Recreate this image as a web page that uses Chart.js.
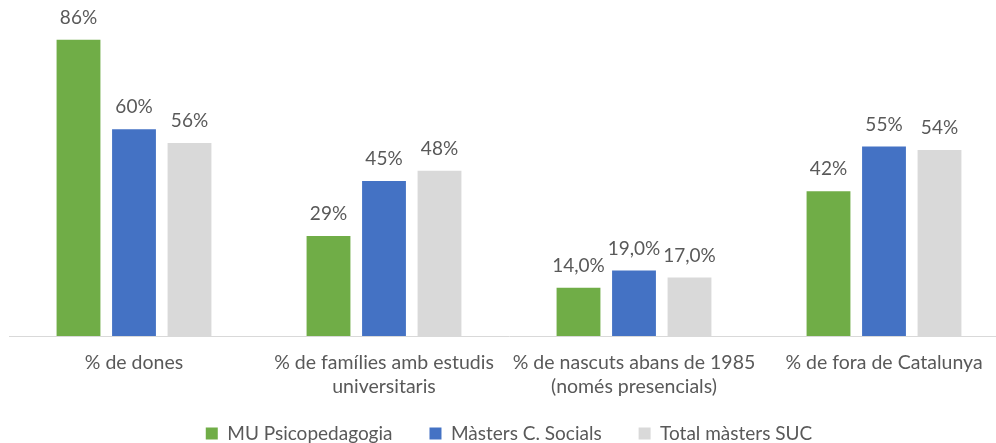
<!DOCTYPE html>
<html>
<head>
<meta charset="utf-8">
<script src="https://cdn.jsdelivr.net/npm/chart.js@4.4.0/dist/chart.umd.min.js"></script>
<style>
  html, body { margin: 0; padding: 0; background: #fff; overflow: hidden; }
  #wrap { position: relative; width: 1018px; height: 453px; }
</style>
</head>
<body>
<div id="wrap"><canvas id="grafic"></canvas></div>
<script>
// categories and series
var categories = [
	'% de dones',
	['% de famílies amb estudis', 'universitaris'],
	['% de nascuts abans de 1985', '(només presencials)'],
	'% de fora de Catalunya'
];
var seriesNames = ['MU Psicopedagogia', 'Màsters C. Socials', 'Total màsters SUC'];
var psicopedagogia = [86, 29, 14, 42];
var socials = [60, 45, 19, 55];
var totalSuc = [56, 48, 17, 54];
var labelsPsico = ['86%', '29%', '14,0%', '42%'];
var labelsSocials = ['60%', '45%', '19,0%', '55%'];
var labelsSuc = ['56%', '48%', '17,0%', '54%'];

var colors = ['#70ad47', '#4472c4', '#d9d9d9'];
var textColor = '#595959';
var fontFamily = 'Lato, "Open Sans", sans-serif';

// little inline plugin to write the value above each bar
const barLabels = {
	id: 'barLabels',
	afterDatasetsDraw: (chart) => {
		const ctx = chart.ctx;
		ctx.save();
		ctx.font = '19px ' + fontFamily;
		ctx.fillStyle = textColor;
		ctx.textAlign = 'center';
		ctx.textBaseline = 'middle';
		chart.data.datasets.forEach((ds, i) => {
			chart.getDatasetMeta(i).data.forEach((bar, j) => {
				ctx.fillText(ds.valueLabels[j], bar.x, bar.y - 22);
			});
		});
		ctx.restore();
	}
};

new Chart(document.getElementById('grafic'), {
	type: 'bar',
	data: {
		labels: categories,
		datasets: [
			{ label: seriesNames[0], data: psicopedagogia, valueLabels: labelsPsico, backgroundColor: colors[0] },
			{ label: seriesNames[1], data: socials, valueLabels: labelsSocials, backgroundColor: colors[1] },
			{ label: seriesNames[2], data: totalSuc, valueLabels: labelsSuc, backgroundColor: colors[2] }
		]
	},
	options: {
		responsive: true,
		maintainAspectRatio: false,
		animation: false,
		layout: { padding: { left: 9, right: 9, top: 26, bottom: 0 } },
		datasets: {
			bar: { categoryPercentage: 0.666, barPercentage: 0.79 }
		},
		scales: {
			y: { display: false, min: 0, max: 90 },
			x: {
				grid: { display: false, drawTicks: false },
				border: { display: true, color: '#d9d9d9', width: 1 },
				ticks: {
					color: textColor,
					font: { family: fontFamily, size: 19.5, lineHeight: 1.23 },
					padding: 15,
					maxRotation: 0,
					autoSkip: false
				},
				afterFit: (scale) => {
					// keep the axis short so the legend sits low, and let the
					// second label line run past the axis box without clipping
					scale.height = 51;
					scale._computeLabelArea = () => undefined;
				}
			}
		},
		plugins: {
			legend: {
				position: 'bottom',
				labels: {
					color: textColor,
					font: { family: fontFamily, size: 19 },
					boxWidth: 12,
					boxHeight: 12,
					padding: 37
				}
			},
			tooltip: { enabled: false }
		}
	},
	plugins: [barLabels]
});
</script>
</body>
</html>
